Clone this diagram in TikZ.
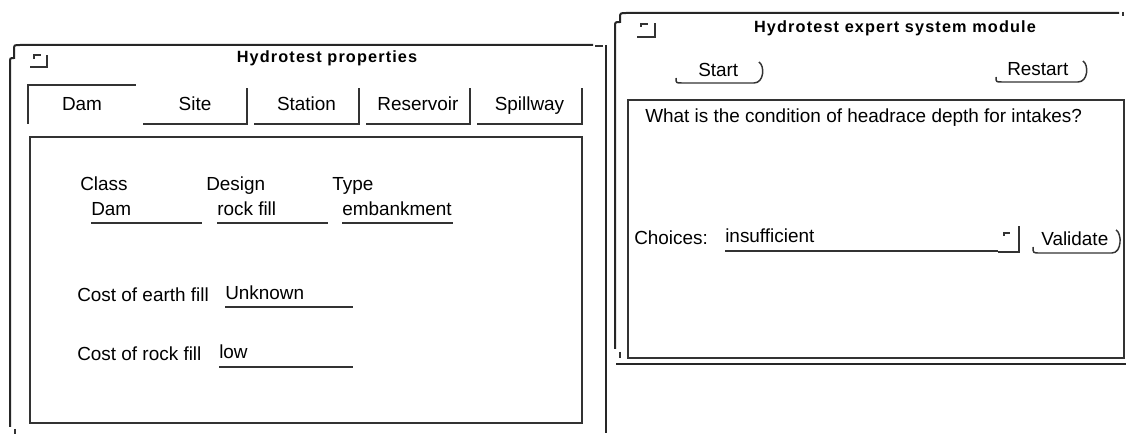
\documentclass[tikz,border=0pt]{standalone}
\usepackage{fontspec}
\setmainfont{Liberation Sans}
\newfontfamily\titlefont[LetterSpace=7]{Liberation Sans}
\usetikzlibrary{calc}

\tikzset{
  frame/.style={draw=black!85, line width=1.5pt},
  edge/.style={draw=black!80, line width=1.1pt},
  uline/.style={draw=black!80, line width=0.9pt},
  txt/.style={inner sep=0pt, anchor=base west, font=\fontsize{14.2}{16}\selectfont},
  tabtxt/.style={txt, anchor=base},
  ttl/.style={inner sep=0pt, anchor=base, font=\titlefont\bfseries\fontsize{12.2}{14}\selectfont}
}

\begin{document}
\begin{tikzpicture}[x=0.75pt,y=-0.75pt]
\useasboundingbox (0,0) rectangle (1128,434);

% left window: Hydrotest properties
\draw[frame] (10,427) -- (10,63) .. controls (10,58) .. (14,58) -- (14,50) .. controls (14,45) .. (20,45) -- (593,45);
\draw[edge]  (595,46) -- (603,46);
\draw[frame] (606,45) -- (606,433);
\draw[edge]  (15,429) -- (15,434);
\draw[edge]  (30,67) -- (47,67) -- (47,55);
\draw[edge]  (34,59) -- (34,55) -- (41,55);
\node[ttl] (prop-title) at (327,63) {Hydrotest properties};

% tabs
\draw[edge] (28,124) -- (28,85) -- (136,85);
\node[tabtxt] (tab-dam) at (82,111) {Dam};
\foreach \xa/\xb/\tabname/\tablabel in {143/247/site/Site, 254/359/station/Station, 366/470/reservoir/Reservoir, 477/582/spillway/Spillway}{
  \draw[edge] (\xa,124) -- (\xb,124) -- (\xb,88);
  \node[tabtxt] (tab-\tabname) at ({(\xa+\xb)/2},111) {\tablabel};
}
\draw[edge] (30,137) rectangle (582,423);

% dam fields
\node[txt] (lab-class)  at (80,191)  {Class};
\node[txt] (lab-design) at (206,191) {Design};
\node[txt] (lab-type)   at (332,191) {Type};
\node[txt] (val-class)  at (91,216)  {Dam};
\node[txt] (val-design) at (217,216) {rock fill};
\node[txt] (val-type)   at (342,216) {embankment};
\draw[uline] (91,223) -- (202,223);
\draw[uline] (217,223) -- (328,223);
\draw[uline] (342,223) -- (453,223);

\node[txt] (lab-earth) at (77,302) {Cost of earth fill};
\node[txt] (val-earth) at (225,300) {Unknown};
\draw[uline] (225,307) -- (353,307);
\node[txt] (lab-rock)  at (77,361) {Cost of rock fill};
\node[txt] (val-rock)  at (219,359) {low};
\draw[uline] (219,367) -- (353,367);

% right window: expert system module
\draw[frame] (615,349) -- (615,27) .. controls (615,22) .. (620,22) -- (620,18) .. controls (620,13) .. (627,13) -- (1119,13);
\draw[edge]  (1123,12) -- (1123,16);
\draw[edge]  (637,37) -- (655,37) -- (655,23);
\draw[edge]  (641,27) -- (641,24) -- (648,24);
\node[ttl] (xps-title) at (895,33) {Hydrotest expert system module};

\node[txt] (btn-start) at (698,77) {Start};
\draw[edge] (676,78) .. controls (676,83) .. (682,83) -- (754,83) .. controls (764,83) and (765,66) .. (759,62);
\node[txt] (btn-restart) at (1007,76) {Restart};
\draw[edge] (996,77) .. controls (996,82) .. (1002,82) -- (1078,82) .. controls (1088,82) and (1089,65) .. (1083,61);

\draw[edge] (628,100) rectangle (1124,358);
\node[txt] (question) at (645,123) {What is the condition of headrace depth for intakes?};

\node[txt] (lab-choices) at (634,245) {Choices:};
\node[txt] (val-choices) at (725,243) {insufficient};
\draw[uline] (725,251) -- (998,251);
\draw[edge]  (998,252) -- (1019,252) -- (1019,226);
\draw[edge]  (1004,236) -- (1004,233) -- (1010,233);
\node[txt] (btn-validate) at (1041,246) {Validate};
\draw[edge] (1033,247) .. controls (1033,253) .. (1040,253) -- (1112,253) .. controls (1122,253) and (1122,233) .. (1116,230);

\draw[edge]  (620,352) -- (620,358);
\draw[frame] (616,364) -- (1126,364);
\end{tikzpicture}
\end{document}
